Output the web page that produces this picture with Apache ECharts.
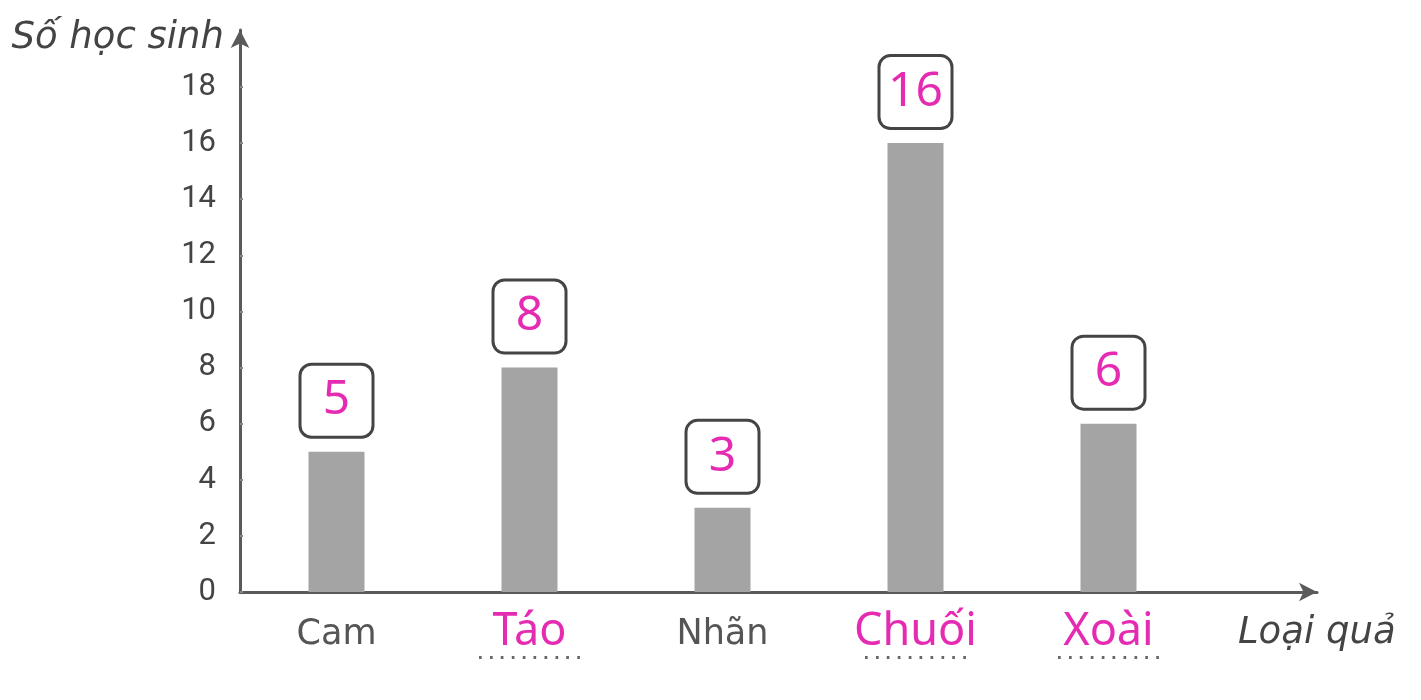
<!DOCTYPE html>
<html><head><meta charset="utf-8">
<script src="https://cdn.jsdelivr.net/npm/echarts@6/dist/echarts.min.js"></script>
<style>html,body{margin:0;padding:0;background:#fff;}#c{width:1421px;height:700px;}</style>
</head><body><div id="c"></div>
<script>
const categories = ['Cam', 'Táo', 'Nhãn', 'Chuối', 'Xoài'];
const values = [5, 8, 3, 16, 6];
const filledLabel = [false, true, false, true, true];
const yTicks = [0, 2, 4, 6, 8, 10, 12, 14, 16, 18];
const yName = 'Số học sinh';
const xName = 'Loại quả';

const magenta = '#e42bb2';
const chart = echarts.init(document.getElementById('c'));
chart.setOption({
  animation: false,
  backgroundColor: '#fff',
  title: [{
    text: xName, left: 1233, top: 610,
    textStyle: {fontFamily: 'DejaVu Sans', fontStyle: 'italic', fontWeight: 'normal', fontSize: 37, color: '#444'}
  }],
  grid: [
    {left: 240, right: 216, top: 87, bottom: 108},
    {left: 240, right: 104, top: 30, bottom: 108}
  ],
  xAxis: [{
    type: 'category', gridIndex: 0, data: categories,
    axisLine: {show: false}, axisTick: {show: false},
    axisLabel: {
      margin: 18,
      formatter: (v, i) => filledLabel[i] ? '{m|' + v + '}\n{d|· · · · · · · · · ·}' : '{g|' + v + '}',
      rich: {
        g: {fontFamily: 'DejaVu Sans', fontSize: 35, color: '#555', lineHeight: 50},
        m: {fontFamily: 'Noto Sans', fontSize: 45, color: magenta, lineHeight: 44},
        d: {fontFamily: 'DejaVu Sans', fontSize: 15, color: '#666', lineHeight: 10, fontWeight: 'bold'}
      }
    }
  }, {
    type: 'value', gridIndex: 1, min: 0, max: 1,
    axisLine: {show: true, symbol: ['none', 'arrow'], symbolSize: [14, 18], lineStyle: {color: '#5a5a5a', width: 3}},
    axisTick: {show: false}, axisLabel: {show: false}, splitLine: {show: false}
  }],
  yAxis: [{
    type: 'value', gridIndex: 0, min: yTicks[0], max: yTicks[yTicks.length - 1], interval: 2,
    axisLine: {show: false},
    axisTick: {show: true, inside: true, length: 3, lineStyle: {color: '#888', width: 2}},
    splitLine: {show: false},
    axisLabel: {margin: 24, fontFamily: 'Roboto', fontSize: 31, color: '#444'}
  }, {
    type: 'value', gridIndex: 1, min: 0, max: 1,
    name: yName, nameLocation: 'end', nameGap: -8,
    nameTextStyle: {fontFamily: 'DejaVu Sans', fontStyle: 'italic', fontSize: 37, color: '#444', align: 'right', verticalAlign: 'middle', padding: [0, 16, 0, 0]},
    axisLine: {show: true, symbol: ['none', 'arrow'], symbolSize: [14, 18], lineStyle: {color: '#5a5a5a', width: 3}},
    axisTick: {show: false}, axisLabel: {show: false}, splitLine: {show: false}
  }],
  series: [{
    type: 'bar', xAxisIndex: 0, yAxisIndex: 0, data: values, barWidth: 56,
    itemStyle: {color: '#a4a4a4'},
    label: {
      show: true, position: 'top', distance: 16,
      formatter: p => '{n|' + p.value + '}',
      backgroundColor: '#fff', borderColor: '#444', borderWidth: 3, borderRadius: 10,
      width: 70, height: 70, align: 'center', verticalAlign: 'bottom',
      rich: {n: {fontFamily: 'Noto Sans', fontSize: 48, color: magenta, lineHeight: 70, align: 'center'}}
    }
  }]
});
</script></body></html>
